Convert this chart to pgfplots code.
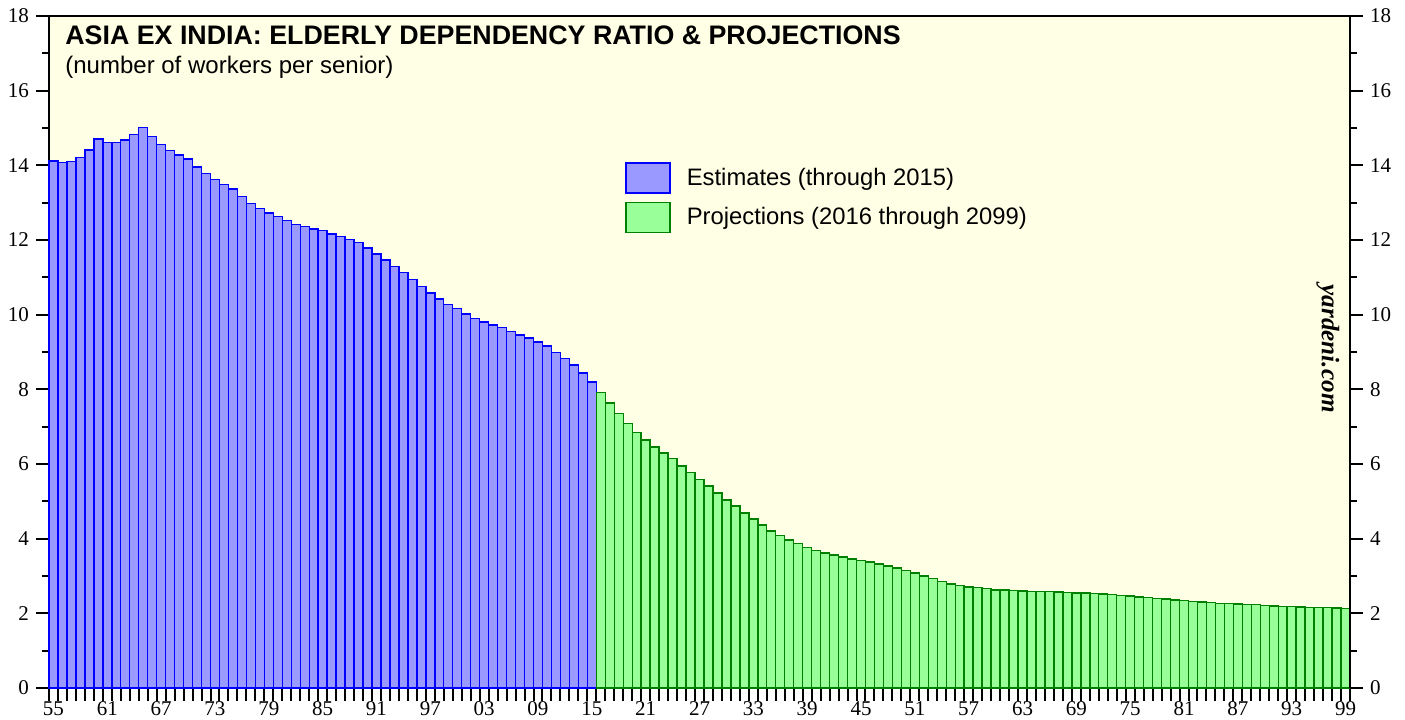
\documentclass[border=0pt]{standalone}
\usepackage{pgfplots}
\pgfplotsset{compat=1.18}
\usepackage{fontspec}
\setmainfont{Liberation Serif}
\newfontfamily\arial{Liberation Sans}
\definecolor{bgyellow}{HTML}{FFFFE6}
\definecolor{barblue}{HTML}{9999FF}
\definecolor{edgeblue}{HTML}{0000FF}
\definecolor{bargreen}{HTML}{99FF99}
\definecolor{edgegreen}{HTML}{008000}
\begin{document}
\begin{tikzpicture}
\begin{axis}[
  at={(0pt,0pt)}, anchor=south west,
  scale only axis, width=650.5pt, height=336pt,
  xmin=1954.5, xmax=2099.5, ymin=0, ymax=18,
  axis background/.style={fill=bgyellow},
  axis line style={line width=1.2pt},
  tick align=outside,
  xtick pos=left, ytick pos=both,
  yticklabel pos=left,
  xtick={1954.5,1955.5,...,2099.5},
  xticklabels={},
  extra x ticks={1955,1961,...,2099},
  extra x tick labels={55,61,67,73,79,85,91,97,03,09,15,21,27,33,39,45,51,57,63,69,75,81,87,93,99},
  extra x tick style={major tick length=0pt, xticklabel style={inner sep=0pt, yshift=-6.8pt}},
  ytick={0,2,...,18},
  minor ytick={1,3,...,17},
  major tick length=6.5pt, minor tick length=3.5pt,
  every tick/.style={black, line width=1pt},
  tick label style={font=\fontsize{10.5}{12}\selectfont},
  /pgf/number format/assume math mode=true,
  legend style={at={(axis description cs:0.4427,0.783)}, anchor=north west,
    draw=none, fill=none, inner sep=0pt, row sep=4pt,
    font=\arial\fontsize{11.9}{13}\selectfont,
    nodes={inner sep=0pt}},
  legend cell align=left,
  clip=false,
]
\addplot[ybar, bar width=1, bar shift=0pt, fill=barblue, draw=edgeblue, line width=0.7pt,
  legend image code/.code={\draw[fill=barblue, draw=edgeblue, line width=0.8pt] (0pt,-7.5pt) rectangle (22pt,7.5pt); \path (30pt,0pt);}]
coordinates {
(1955,14.12)(1956,14.08)(1957,14.11)(1958,14.21)(1959,14.41)(1960,14.71)(1961,14.61)(1962,14.61)(1963,14.68)(1964,14.82)
(1965,15.02)(1966,14.77)(1967,14.56)(1968,14.39)(1969,14.28)(1970,14.17)(1971,13.96)(1972,13.78)(1973,13.62)(1974,13.48)
(1975,13.37)(1976,13.16)(1977,12.98)(1978,12.84)(1979,12.72)(1980,12.63)(1981,12.52)(1982,12.42)(1983,12.36)(1984,12.30)
(1985,12.25)(1986,12.16)(1987,12.09)(1988,12.02)(1989,11.93)(1990,11.79)(1991,11.63)(1992,11.46)(1993,11.29)(1994,11.13)
(1995,10.95)(1996,10.75)(1997,10.58)(1998,10.42)(1999,10.28)(2000,10.16)(2001,10.02)(2002,9.90)(2003,9.80)(2004,9.72)
(2005,9.65)(2006,9.55)(2007,9.46)(2008,9.38)(2009,9.27)(2010,9.16)(2011,8.99)(2012,8.83)(2013,8.65)(2014,8.44)
(2015,8.20)
};
\addlegendentry{Estimates (through 2015)}
\addplot[ybar, bar width=1, bar shift=0pt, fill=bargreen, draw=edgegreen, line width=0.7pt,
  legend image code/.code={\draw[fill=bargreen, draw=edgegreen, line width=0.8pt] (0pt,-7.5pt) rectangle (22pt,7.5pt); \path (30pt,0pt);}]
coordinates {
(2016,7.91)(2017,7.63)(2018,7.35)(2019,7.08)(2020,6.85)(2021,6.64)(2022,6.46)(2023,6.30)(2024,6.14)(2025,5.95)
(2026,5.77)(2027,5.59)(2028,5.41)(2029,5.22)(2030,5.04)(2031,4.87)(2032,4.69)(2033,4.53)(2034,4.37)(2035,4.21)
(2036,4.09)(2037,3.96)(2038,3.87)(2039,3.76)(2040,3.68)(2041,3.62)(2042,3.56)(2043,3.51)(2044,3.46)(2045,3.41)
(2046,3.37)(2047,3.32)(2048,3.27)(2049,3.21)(2050,3.14)(2051,3.08)(2052,3.00)(2053,2.93)(2054,2.85)(2055,2.79)
(2056,2.75)(2057,2.71)(2058,2.69)(2059,2.66)(2060,2.63)(2061,2.62)(2062,2.61)(2063,2.60)(2064,2.59)(2065,2.58)
(2066,2.58)(2067,2.57)(2068,2.56)(2069,2.55)(2070,2.54)(2071,2.53)(2072,2.52)(2073,2.50)(2074,2.48)(2075,2.46)
(2076,2.44)(2077,2.42)(2078,2.40)(2079,2.38)(2080,2.36)(2081,2.34)(2082,2.32)(2083,2.30)(2084,2.29)(2085,2.27)
(2086,2.26)(2087,2.25)(2088,2.24)(2089,2.23)(2090,2.21)(2091,2.20)(2092,2.19)(2093,2.18)(2094,2.17)(2095,2.16)
(2096,2.16)(2097,2.15)(2098,2.14)(2099,2.13)
};
\addlegendentry{Projections (2016 through 2099)}
\node[anchor=base west, inner sep=0pt, font=\arial\bfseries\fontsize{13.4}{15}\selectfont]
  at (axis description cs:0.0123,0.958) {ASIA EX INDIA: ELDERLY DEPENDENCY RATIO \& PROJECTIONS};
\node[anchor=base west, inner sep=0pt, font=\arial\fontsize{12}{14}\selectfont]
  at (axis description cs:0.0123,0.9147) {(number of workers per senior)};
\node[rotate=-90, inner sep=0pt, font=\bfseries\itshape\fontsize{12.6}{14}\selectfont]
  at (axis description cs:0.983,0.505) {yardeni.com};
\end{axis}
\begin{axis}[
  at={(0pt,0pt)}, anchor=south west,
  scale only axis, width=650.5pt, height=336pt,
  xmin=1954.5, xmax=2099.5, ymin=0, ymax=18,
  hide x axis,
  axis y line*=right,
  axis line style={line width=1.2pt},
  tick align=outside,
  ytick={0,2,...,18},
  minor ytick={1,3,...,17},
  major tick length=6.5pt, minor tick length=3.5pt,
  every tick/.style={black, line width=1pt},
  tick label style={font=\fontsize{10.5}{12}\selectfont},
  /pgf/number format/assume math mode=true,
]
\end{axis}
\pgfresetboundingbox
\useasboundingbox (-24.5pt,-15.5pt) rectangle (678pt,344pt);
\end{tikzpicture}
\end{document}
